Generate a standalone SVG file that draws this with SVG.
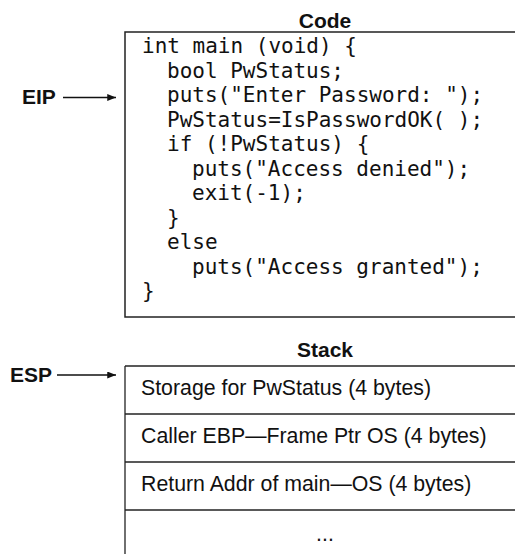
<svg xmlns="http://www.w3.org/2000/svg" width="515" height="554" viewBox="0 0 515 554">
  <style>
    .title { font-family: "Liberation Sans", Arial, sans-serif; font-weight: bold; font-size: 21px; fill: #111; }
    .reg { font-family: "Liberation Sans", Arial, sans-serif; font-weight: bold; font-size: 21px; fill: #111; }
    .code { font-family: "DejaVu Sans Mono", "Liberation Mono", monospace; font-size: 21px; fill: #111; }
    .cell { font-family: "Liberation Sans", Arial, sans-serif; font-size: 21.3px; fill: #111; }
    .box { fill: #fff; stroke: #222; stroke-width: 1.5; }
    .rule { stroke: #222; stroke-width: 1.3; fill: none; }
    .conn { stroke: #111; stroke-width: 1.3; fill: none; }
  </style>
  <defs>
    <marker id="arrowhead" viewBox="0 0 10 8" refX="10" refY="4" markerWidth="10" markerHeight="7" markerUnits="userSpaceOnUse" orient="auto">
      <path d="M0,0 L10,4 L0,8 Z" fill="#111"/>
    </marker>
  </defs>
  <rect width="515" height="554" fill="#fff"/>

  <!-- code listing -->
  <g id="code">
    <text class="title" x="325" y="28" text-anchor="middle">Code</text>
    <rect class="box" x="125" y="32" width="400" height="285"/>
    <text class="code" x="142" y="53">int main (void) {</text>
    <text class="code" x="167" y="77.5">bool PwStatus;</text>
    <text class="code" x="167" y="102">puts("Enter Password: ");</text>
    <text class="code" x="167" y="126.5">PwStatus=IsPasswordOK( );</text>
    <text class="code" x="167" y="151">if (!PwStatus) {</text>
    <text class="code" x="192" y="175.5">puts("Access denied");</text>
    <text class="code" x="192" y="200">exit(-1);</text>
    <text class="code" x="167" y="224.5">}</text>
    <text class="code" x="167" y="249">else</text>
    <text class="code" x="192" y="273.5">puts("Access granted");</text>
    <text class="code" x="142" y="298">}</text>
  </g>

  <!-- stack frame -->
  <g id="stack">
    <text class="title" x="325" y="357" text-anchor="middle">Stack</text>
    <line class="rule" x1="125" y1="366" x2="520" y2="366"/>
    <line class="rule" x1="125" y1="366" x2="125" y2="554"/>
    <line class="rule" x1="125" y1="414" x2="520" y2="414"/>
    <line class="rule" x1="125" y1="462" x2="520" y2="462"/>
    <line class="rule" x1="125" y1="510" x2="520" y2="510"/>
  </g>
  <g id="slot-pwstatus">
    <text class="cell" x="141" y="395">Storage for PwStatus (4 bytes)</text>
  </g>
  <g id="slot-ebp">
    <text class="cell" x="141" y="443">Caller EBP—Frame Ptr OS (4 bytes)</text>
  </g>
  <g id="slot-ret">
    <text class="cell" x="141" y="491">Return Addr of main—OS (4 bytes)</text>
  </g>
  <g id="slot-more">
    <text class="cell" x="325" y="541" text-anchor="middle">...</text>
  </g>

  <!-- register labels -->
  <g id="eip">
    <text class="reg" x="22" y="104">EIP</text>
  </g>
  <g id="esp">
    <text class="reg" x="10" y="382">ESP</text>
  </g>

  <g id="connectors">
    <line class="conn" x1="63" y1="97.5" x2="116" y2="97.5" marker-end="url(#arrowhead)"/>
    <line class="conn" x1="57" y1="375" x2="116" y2="375" marker-end="url(#arrowhead)"/>
  </g>
</svg>
